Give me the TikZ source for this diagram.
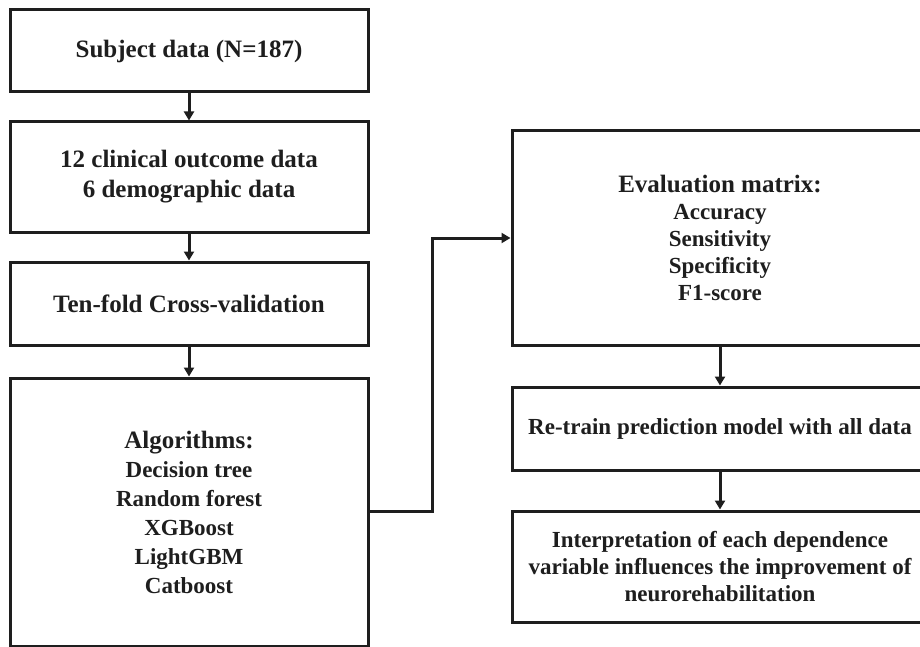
\documentclass[tikz,border=0pt]{standalone}
\usepackage{fontspec}
\setmainfont{Liberation Serif}
\usetikzlibrary{arrows.meta}
\definecolor{ink}{HTML}{1E1E1E}
\definecolor{txt}{HTML}{1E1E1E}
\tikzset{
  box/.style={draw=ink, line width=3pt, rectangle, inner sep=0pt, text=txt, align=center,
    font=\fontsize{25}{30}\selectfont\bfseries},
  lbox/.style={box, minimum width=358pt},
  rbox/.style={box, minimum width=416pt, font=\fontsize{23}{27}\selectfont\bfseries},
  arr/.style={draw=ink, line width=3pt, -{Triangle[length=9pt,width=10pt]}},
  conn/.style={draw=ink, line width=3pt}
}
\begin{document}
\begin{tikzpicture}[x=1pt,y=-1pt]
\fill[white] (0,0) rectangle (920,647);
\clip (0,0) rectangle (920,647);
\useasboundingbox (0,0) rectangle (920,647);

\node[lbox, minimum height=82pt] (b1) at (189,51) {Subject data (N=187)};
\node[lbox, minimum height=110pt] (b2) at (189,177) {12 clinical outcome data\\6 demographic data};
\node[lbox, minimum height=83pt] (b3) at (189,303.5) {Ten-fold Cross-validation};
\node[lbox, minimum height=268pt] (b4) at (189,512) {{\fontsize{25}{29}\selectfont Algorithms:}\\[-1pt]
  {\fontsize{23}{27}\selectfont Decision tree}\\[-1pt]
  {\fontsize{23}{27}\selectfont Random forest}\\[-1pt]
  {\fontsize{23}{27}\selectfont XGBoost}\\[-1pt]
  {\fontsize{23}{27}\selectfont LightGBM}\\[-1pt]
  {\fontsize{23}{27}\selectfont Catboost}};

\node[rbox, minimum height=214pt] (b5) at (720,238) {{\fontsize{25}{29}\selectfont Evaluation matrix:}\\
  Accuracy\\ Sensitivity\\ Specificity\\ F1-score};
\node[rbox, minimum height=83pt] (b6) at (720,428.5) {Re-train prediction model with all data};
\node[rbox, minimum height=111pt] (b7) at (720,566.5) {Interpretation of each dependence\\
  variable influences the improvement of\\ neurorehabilitation};

\draw[arr] (b1) -- (b2);
\draw[arr] (b2) -- (b3);
\draw[arr] (b3) -- (b4);
\coordinate (turn) at (432,511);
\draw[arr] (b4.east |- turn) -- (turn) |- (b5.west);
\draw[arr] (b5) -- (b6);
\draw[arr] (b6) -- (b7);
\end{tikzpicture}
\end{document}
